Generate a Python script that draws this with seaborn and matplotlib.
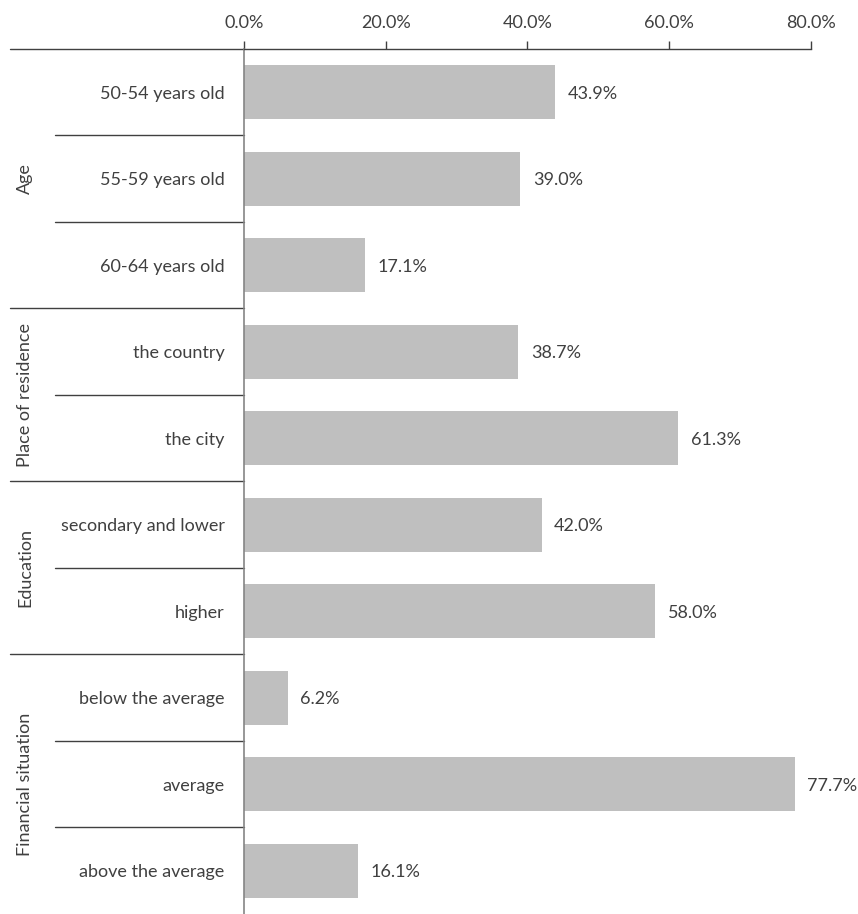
import matplotlib
matplotlib.use('Agg')
import matplotlib.pyplot as plt
import seaborn as sns
import pandas as pd

# chart data
categories = ['50-54 years old', '55-59 years old', '60-64 years old',
              'the country', 'the city',
              'secondary and lower', 'higher',
              'below the average', 'average', 'above the average']
values = [43.9, 39.0, 17.1, 38.7, 61.3, 42.0, 58.0, 6.2, 77.7, 16.1]
groups = ['Age', 'Place of residence', 'Education', 'Financial situation']
group_sizes = [3, 2, 2, 3]
x_ticks = [0, 20, 40, 60, 80]

df = pd.DataFrame({'category': categories, 'value': values})

sns.set_style('white')
plt.rcParams['font.family'] = ['Lato', 'DejaVu Sans']
text_col = '#404040'
fs = 13

W, H = 858, 914
fig = plt.figure(figsize=(W / 100, H / 100), dpi=100)
ax_left, ax_right, ax_top = 244, 811, 49
ax = fig.add_axes([ax_left / W, 0, (ax_right - ax_left) / W, (H - ax_top) / H])

sns.barplot(data=df, x='value', y='category', color='#bfbfbf', saturation=1,
            width=0.63, ax=ax, linewidth=0)

ax.set_xlim(0, 80)
ax.set_ylim(9.5, -0.5)
ax.set_xlabel('')
ax.set_ylabel('')

# x axis on top
ax.xaxis.tick_top()
ax.set_xticks(x_ticks)
ax.set_xticklabels([f'{t:.1f}%' for t in x_ticks])
ax.tick_params(axis='x', length=6, width=1, color=text_col, pad=7,
               labelsize=fs, labelcolor=text_col)
ax.tick_params(axis='y', length=0, pad=14, labelsize=fs, labelcolor=text_col)

for s in ['right', 'bottom']:
    ax.spines[s].set_visible(False)
ax.spines['top'].set_color(text_col)
ax.spines['top'].set_linewidth(1)
ax.spines['left'].set_color('#858585')
ax.spines['left'].set_linewidth(1.2)

axw = ax_right - ax_left
def px_to_ax(px):
    return (px - ax_left) / axw

# extend top axis line to the left
ax.plot([px_to_ax(10), 0], [1, 1], transform=ax.transAxes, color=text_col,
        lw=1, clip_on=False)

# separators between categories and groups
ytr = ax.get_yaxis_transform()
bounds = []
acc = 0
for n in group_sizes[:-1]:
    acc += n
    bounds.append(acc)
for k in range(1, len(categories)):
    x0 = px_to_ax(10) if k in bounds else px_to_ax(55)
    ax.plot([x0, 0], [k - 0.5, k - 0.5], transform=ytr, color=text_col,
            lw=1, clip_on=False)

# group labels
start = 0
for g, n in zip(groups, group_sizes):
    centre = start + (n - 1) / 2
    ax.text(px_to_ax(25), centre, g, rotation=90, ha='center', va='center',
            transform=ytr, fontsize=fs, color=text_col)
    start += n

# value labels
for i, v in enumerate(values):
    ax.annotate(f'{v:.1f}%', (v, i), xytext=(9, -1), textcoords='offset points',
                va='center', ha='left', fontsize=fs, color=text_col)

fig.savefig('out.png', dpi=100)
